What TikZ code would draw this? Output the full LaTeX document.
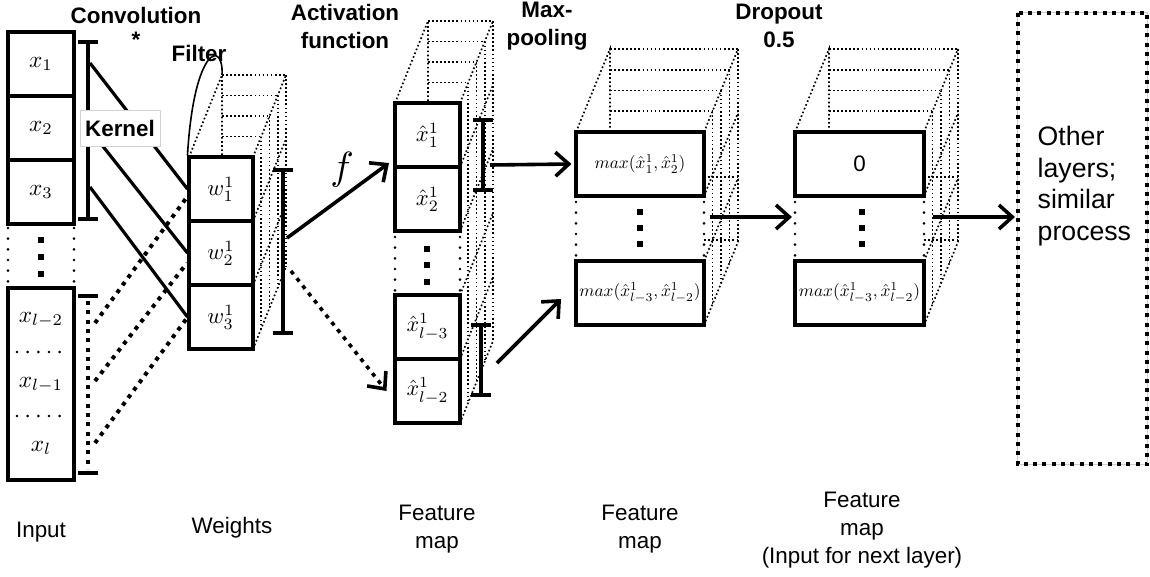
\documentclass[tikz,border=0pt]{standalone}
\usepackage{graphicx}
\usepackage{fontspec}
\setmainfont{Liberation Sans}
\usetikzlibrary{arrows.meta,calc}
\newcommand\mscale[2]{\scalebox{#1}{$#2$}}
\tikzset{
  thindot/.style={line width=1.25pt, dash pattern=on 1.25pt off 1.8pt},
  rdots/.style={line width=2.2pt, line cap=round, dash pattern=on 0pt off 8pt},
  sqdots/.style={line width=3pt, dash pattern=on 3pt off 4pt},
  brk/.style={line width=2.4pt},
  conn/.style={line width=2.4pt},
  arr/.style={line width=2.7pt, -{Straight Barb[length=10pt,width=18pt]}},
  cell/.style={draw, line width=2.3pt, inner sep=0pt, minimum width=#1, minimum height=48pt, fill=white},
  mth/.style={font=\normalsize},
  lab/.style={font=\fontsize{16.8}{21}\selectfont, align=center},
  hdr/.style={font=\fontsize{16.8}{21}\selectfont\bfseries, align=center},
  otxt/.style={font=\fontsize{20}{23.8}\selectfont, align=left},
}
\newcommand\drawprism[7]{%
  \draw[thindot] (#1,#3) -- ++(#5,-#6) -- ++(0,#6);
  \foreach \tt in {0.25,0.5,0.75,1} {
    \draw[thindot] (#1+#5,#3-\tt*#6) -- (#2+\tt*#5,#3-\tt*#6);
    \draw[thindot] (#2+\tt*#5,#3-\tt*#6) -- (#2+\tt*#5,#4-\tt*#6);
  }
  \foreach \bb in {#7} { \draw[thindot] (#2,\bb) -- ++(#5,-#6); }
}
\begin{document}
\begin{tikzpicture}[x=0.75pt,y=-0.75pt]
\useasboundingbox (0,0) rectangle (1150,576);
\fill[white] (0,0) rectangle (1150,576);

% ---------- 3D dotted prisms ----------
\drawprism{189}{253}{157}{349}{33}{82}{157,221,285,349}
\drawprism{395}{460}{103}{423}{33}{82}{103,167,231,295,359,423}
\drawprism{576}{704}{132}{325}{34}{83}{132,196,261,325}
\drawprism{795}{924}{132}{325}{34}{83}{132,196,261,325}
\draw[thindot] (704,177) -- (738,177);
\draw[thindot] (704,240) -- (738,240);
\draw[thindot] (924,177) -- (958,177);
\draw[thindot] (924,240) -- (958,240);

% ---------- Input ----------
\node[cell=49.5pt, mth] (x1) at (41,64) {\mscale{1.75}{x_1}};
\node[cell=49.5pt, mth] (x2) at (41,128) {\mscale{1.75}{x_2}};
\node[cell=49.5pt, mth] (x3) at (41,192) {\mscale{1.75}{x_3}};
\draw[rdots] (8,228) -- (8,286);
\draw[rdots] (74,228) -- (74,286);
\foreach \yy in {240,257,274} \fill (38,\yy-3) rectangle (44,\yy+3);
\node[draw, line width=2.3pt, inner sep=0pt, minimum width=49.5pt, minimum height=144pt, fill=white] (xlow) at (41,384) {};
\draw[rdots] (17,352) -- (66,352);
\draw[rdots] (17,416) -- (66,416);
\node[mth] (xl2) at (41,320) {\mscale{1.75}{x_{l-2}}};
\node[mth] (xl1) at (41,385) {\mscale{1.75}{x_{l-1}}};
\node[mth] (xl) at (41,448) {\mscale{1.75}{x_{l}}};

% kernel brackets
\draw[brk] (88,42) -- (88,219);
\draw[brk] (78,42) -- (98,42);
\draw[brk] (78,219) -- (98,219);
\draw[sqdots] (88,301) -- (88,469);
\draw[brk] (78,296) -- (98,296);
\draw[brk] (78,473) -- (98,473);

% ---------- Weights ----------
\node[cell=48pt, mth] (w1) at (221,189) {\mscale{1.7}{w^1_1}};
\node[cell=48pt, mth] (w2) at (221,253) {\mscale{1.7}{w^1_2}};
\node[cell=48pt, mth] (w3) at (221,317) {\mscale{1.7}{w^1_3}};
\draw[line width=3.4pt] (283,172) -- (283,332);
\draw[line width=2.6pt] (273,170) -- (293,170);
\draw[line width=2.6pt] (273,333) -- (293,333);

% filter curve
\coordinate (fback) at (222,75);
\draw[line width=1.2pt] (w1.north west) .. controls (194,45) and (224,40) .. (fback);
\node[hdr] (filter) at (199,53) {Filter};

% connectors input -> weights
\coordinate (k1) at (90,63);
\coordinate (k2) at (90,130);
\coordinate (k3) at (90,187);
\draw[conn] (k1) -- (w1.west);
\draw[conn] (k2) -- (w2.west);
\draw[conn] (k3) -- (w3.west);
\coordinate (d1) at (95,323);
\coordinate (d2) at (95,381);
\coordinate (d3) at (95,443);
\coordinate (e1) at (187,197);
\coordinate (e2) at (187,263);
\coordinate (e3) at (187,318);
\draw[sqdots] (d1) -- (e1);
\draw[sqdots] (d2) -- (e2);
\draw[sqdots] (d3) -- (e3);
\node[draw=gray!35, line width=0.6pt, fill=white, minimum width=60pt, minimum height=27pt, inner sep=1pt, hdr] (kernel) at (120,128) {Kernel};

% ---------- Feature map 1 ----------
\node[cell=48.75pt, mth] (h1) at (427.5,135) {\mscale{1.7}{\hat{x}^1_1}};
\node[cell=48.75pt, mth] (h2) at (427.5,199) {\mscale{1.7}{\hat{x}^1_2}};
\draw[rdots] (395,237) -- (395,291);
\draw[rdots] (460,237) -- (460,291);
\foreach \yy in {249,265,282} \fill (424,\yy-3) rectangle (430,\yy+3);
\node[cell=48.75pt, mth] (h3) at (427.5,327) {\mscale{1.65}{\hat{x}^1_{l-3}}};
\node[cell=48.75pt, mth] (h4) at (427.5,391) {\mscale{1.65}{\hat{x}^1_{l-2}}};
\draw[line width=3pt] (483,122) -- (483,188);
\draw[line width=2.6pt] (473,120) -- (493,120);
\draw[line width=2.6pt] (473,190) -- (493,190);
\draw[line width=3pt] (481,327) -- (481,393);
\draw[line width=2.6pt] (471,325) -- (491,325);
\draw[line width=2.6pt] (471,395) -- (491,395);

% activation arrows
\coordinate (wa) at (287,238);
\coordinate (wd) at (291,271);
\coordinate (ha) at (389,163);
\draw[arr] (wa) -- (ha);
\draw[sqdots, arr] (wd) -- ($(h4.west)+(-7,0)$);
\node[mth] (flab) at (342,170) {\mscale{2.95}{f}};

% ---------- Feature map 2 ----------
\node[cell=96pt, mth] (m1) at (640,164) {\mscale{1.3}{max(\hat{x}^1_1,\hat{x}^1_2)}};
\draw[rdots] (576,202) -- (576,256);
\draw[rdots] (704,202) -- (704,256);
\foreach \yy in {212,228,244} \fill (637,\yy-3) rectangle (643,\yy+3);
\node[cell=96pt, mth] (m2) at (640,293) {\mscale{1.3}{max(\hat{x}^1_{l-3},\hat{x}^1_{l-2})}};

\coordinate (hb1) at (490,165);
\coordinate (hb2) at (497,363);
\coordinate (mt2) at (561,299);
\draw[arr] (hb1) -- ($(m1.west)+(-3,0)$);
\draw[arr] (hb2) -- (mt2);

% ---------- Feature map 3 ----------
\node[cell=96.75pt, font=\fontsize{16.8}{21}\selectfont] (n1) at (859.5,164) {0};
\draw[rdots] (795,202) -- (795,256);
\draw[rdots] (924,202) -- (924,256);
\foreach \yy in {212,228,244} \fill (859,\yy-3) rectangle (865,\yy+3);
\node[cell=96.75pt, mth] (n2) at (859.5,293) {\mscale{1.3}{max(\hat{x}^1_{l-3},\hat{x}^1_{l-2})}};

\coordinate (ms) at (710,217);
\coordinate (nt) at (792,217);
\draw[arr] (ms) -- (nt);

% ---------- Other layers ----------
\node[minimum width=96.75pt, minimum height=338.25pt, inner sep=0pt] (other) at (1082.5,238.5) {};
\draw[gray!40, line width=0.6pt] (other.north west) rectangle (other.south east);
\draw[sqdots] (other.north west) rectangle (other.south east);
\node[otxt, anchor=west] (othertxt) at (1033,186) {Other\\layers;\\similar\\process};
\coordinate (ns) at (933,217);
\coordinate (ot) at (1015,217);
\draw[arr] (ns) -- (ot);

% ---------- headers ----------
\node[hdr] (conv) at (136,15) {Convolution};
\node[hdr] (star) at (136,40) {*};
\node[hdr] (act) at (345,26) {Activation\\function};
\node[hdr] (maxp) at (547,26) {Max-\\pooling};
\node[hdr] (drop) at (779,26) {Dropout\\0.5};

% ---------- bottom labels ----------
\node[lab] (linput) at (41,532) {Input};
\node[lab] (lweights) at (232,528) {Weights};
\node[lab] (lfm1) at (437,529) {Feature\\map};
\node[lab] (lfm2) at (640,529) {Feature\\map};
\node[lab] (lfm3) at (862,530) {Feature\\map\\(Input for next layer)};
\end{tikzpicture}
\end{document}
